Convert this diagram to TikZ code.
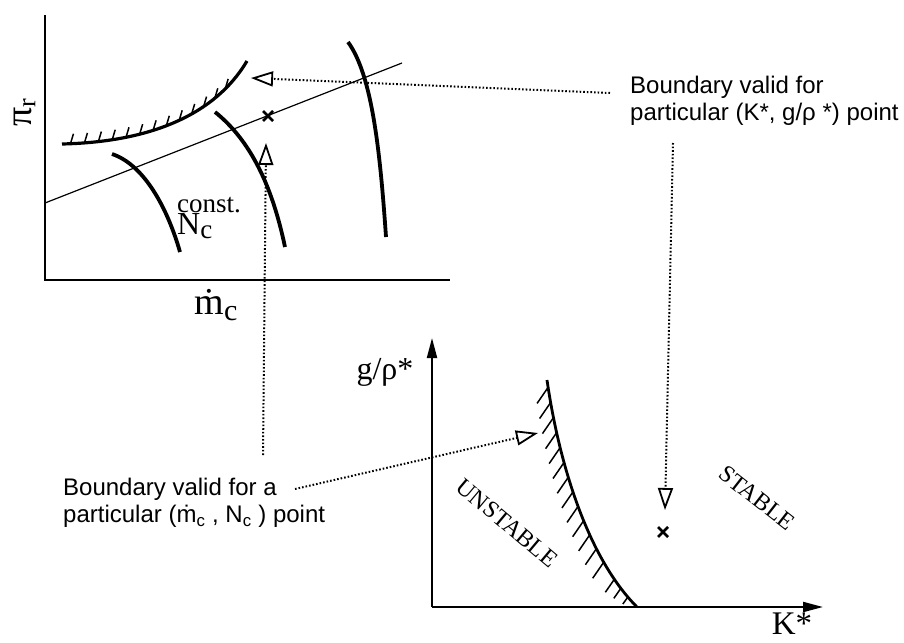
\documentclass[tikz,border=0pt]{standalone}
\usepackage{fontspec}
\setmainfont{Liberation Serif}
\newfontfamily\sansf{Liberation Sans}
\usetikzlibrary{arrows.meta,decorations.markings,calc}
\tikzset{
  axisline/.style={line width=1.6pt},
  thickcurve/.style={line width=3.8pt},
  bound/.style={line width=2.8pt},
  thinline/.style={line width=1.2pt},
  leader/.style={line width=2pt, dash pattern=on 1.6pt off 2pt},
  openhead/.style={-{Triangle[open,length=22pt,width=15pt,line width=1.8pt]}},
  axisarrow/.style={-{Triangle[length=20pt,width=10pt]}},
  cross/.style={line width=2.8pt},
  lbl/.style={inner sep=0pt},
  note/.style={inner sep=0pt, font=\sansf\fontsize{24}{27}\selectfont, align=left, anchor=north west},
  hatchtop/.style={postaction={decorate, decoration={markings,
     mark=between positions 0.04 and 0.86 step 0.066 with {\pgftransformresetnontranslations \draw[line width=1.5pt] (0pt,0pt) -- (3pt,10pt);}}}},
  hatchbot/.style={postaction={decorate, decoration={markings,
     mark=between positions 0.03 and 0.80 step 0.062 with {\pgftransformresetnontranslations \draw[line width=1.5pt] (0pt,0pt) -- (-11pt,-16pt);},
     mark=at position 0.855 with {\pgftransformresetnontranslations \draw[line width=1.5pt] (0pt,0pt) -- (-9pt,-13pt);},
     mark=at position 0.90 with {\pgftransformresetnontranslations \draw[line width=1.5pt] (0pt,0pt) -- (-7pt,-10pt);},
     mark=at position 0.945 with {\pgftransformresetnontranslations \draw[line width=1.5pt] (0pt,0pt) -- (-5pt,-7pt);}}}}
}
\begin{document}
\begin{tikzpicture}[x=1pt,y=-1pt]
\useasboundingbox (0,0) rectangle (904,642);
% ---------- top-left compressor map ----------
\coordinate (O1) at (45,280);
\coordinate (Y1) at (45,15);
\coordinate (X1) at (450,280);
\draw[axisline] (Y1) -- (O1) -- (X1);
\node[lbl, rotate=90, font=\fontsize{38}{38}\selectfont] (pir) at (25,113) {π\raisebox{-0.2ex}{\fontsize{26}{26}\selectfont r}};
\node[lbl, font=\fontsize{38}{38}\selectfont] (mc) at (216,305) {\.{m}\raisebox{-0.35ex}{\fontsize{30}{30}\selectfont c}};
\node[lbl, anchor=west, align=left] (nc) at (177,218) {{\fontsize{27}{22}\selectfont const.}\\{\fontsize{32}{26}\selectfont N\raisebox{-0.3ex}{\fontsize{27}{27}\selectfont c}}};
% operating line
\coordinate (L1) at (45,203);
\coordinate (L2) at (402,63);
\draw[thinline] (L1) -- (L2);
% surge boundary
\coordinate (S1) at (62,144);
\coordinate (S2) at (247,61);
\draw[bound, line width=3.2pt, hatchtop] (S1) .. controls (150,142) and (215,115) .. (S2);
% speed lines
\coordinate (A1) at (112,154); \coordinate (A2) at (180,252);
\coordinate (B1) at (215,112); \coordinate (B2) at (285,247);
\coordinate (C1) at (348,42);  \coordinate (C2) at (386,237);
\draw[thickcurve] (A1) .. controls (145,165) and (168,210) .. (A2);
\draw[thickcurve] (B1) .. controls (250,140) and (272,185) .. (B2);
\draw[thickcurve] (C1) .. controls (372,75) and (380,150) .. (C2);
% operating point
\coordinate (P1) at (268,116);
\draw[cross] ($(P1)+(-5,-5)$) -- ($(P1)+(5,5)$) ($(P1)+(-5,5)$) -- ($(P1)+(5,-5)$);
% ---------- bottom-right stability map ----------
\coordinate (O2) at (432,607);
\coordinate (Y2) at (432,338);
\coordinate (X2) at (823,607);
\draw[axisline, line width=2pt, axisarrow] (O2) -- (Y2);
\draw[axisline, line width=2pt, axisarrow] (O2) -- (X2);
\node[lbl, font=\fontsize{32}{32}\selectfont] (gr) at (385,372) {g/ρ*};
\node[lbl, font=\fontsize{33}{33}\selectfont] (ks) at (792,624) {K*};
\coordinate (T1) at (547,380);
\coordinate (T2) at (637,607);
\draw[bound, hatchbot] (T1) .. controls (560,470) and (590,560) .. (T2);
\node[lbl, rotate=-40, font=\fontsize{24}{24}\selectfont] (uns) at (507,523) {UNSTABLE};
\node[lbl, rotate=-38, font=\fontsize{24}{24}\selectfont] (sta) at (757,498) {STABLE};
\coordinate (P2) at (663,532);
\draw[cross] ($(P2)+(-5,-5)$) -- ($(P2)+(5,5)$) ($(P2)+(-5,5)$) -- ($(P2)+(5,-5)$);
% ---------- annotations ----------
\node[note] (tR) at (630,76) {Boundary valid for\\particular (K*, g/ρ *) point};
\node[note] (tL) at (63,478) {Boundary valid for a\\particular (\.{m}\textsubscript{c} , N\textsubscript{c} ) point};
\coordinate (hR1) at (610,93);
\coordinate (tipR1) at (251,78);
\coordinate (hR2) at (673,143);
\coordinate (tipR2) at (665,510);
\coordinate (hL1) at (263,455);
\coordinate (tipL1) at (266,143);
\coordinate (hL2) at (295,489);
\coordinate (tipL2) at (538,433);
\draw[leader, openhead] (hR1) -- (tipR1);
\draw[leader, openhead] (hR2) -- (tipR2);
\draw[leader, openhead] (hL1) -- (tipL1);
\draw[leader, openhead] (hL2) -- (tipL2);
\end{tikzpicture}
\end{document}
